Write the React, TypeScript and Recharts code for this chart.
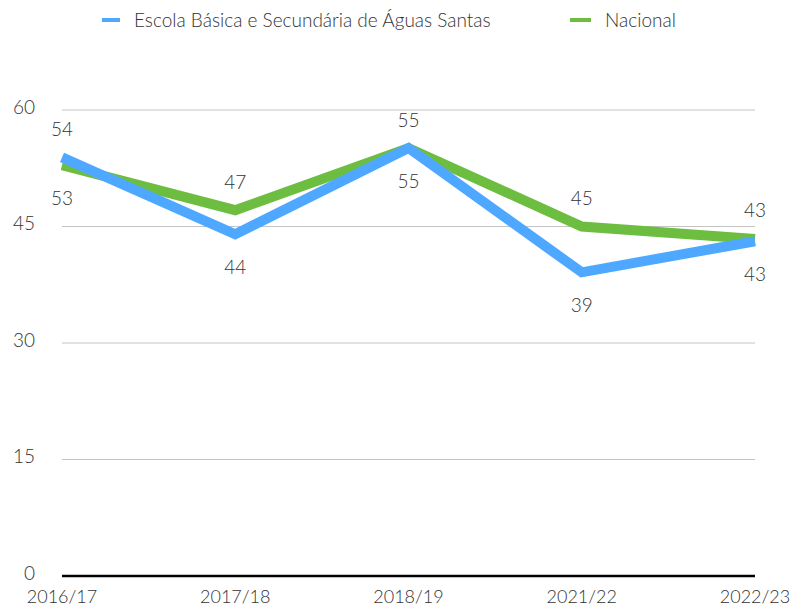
import { LineChart, Line, XAxis, YAxis, CartesianGrid, Legend, LabelList } from 'recharts';

const years = ['2016/17', '2017/18', '2018/19', '2021/22', '2022/23'];
const escola = [53.9, 44.0, 55.1, 39.1, 43.1];
const nacional = [52.9, 47.1, 55.1, 45.0, 43.4];
const yTicks = [0, 15, 30, 45, 60];

const BLUE = '#4FA8FF';
const GREEN = '#6DBE40';
const FONT = 'Lato, "Open Sans", sans-serif';
const TEXT = '#333333';

const data = years.map((year, i) => ({ year, escola: escola[i], nacional: nacional[i] }));

const makeLabel = (key: 'escola' | 'nacional') => (props: any) => {
  const { x, y, index, value } = props;
  const other = key === 'escola' ? nacional[index] : escola[index];
  const above = key === 'escola' ? value > other : value >= other;
  return (
    <text
      x={x}
      y={above ? y - 29 : y + 32}
      textAnchor="middle"
      dominantBaseline="central"
      fontSize={19}
      fontWeight={300}
      fontFamily={FONT}
      fill={TEXT}
    >
      {Math.round(value)}
    </text>
  );
};

const LegendBox = () => (
  <div style={{ height: 40, position: 'relative', fontFamily: FONT, fontSize: 19, fontWeight: 300, color: TEXT }}>
    <div style={{ position: 'absolute', left: 102, top: 8, display: 'flex', alignItems: 'center' }}>
      <span style={{ width: 18, height: 4, background: BLUE, marginRight: 14 }} />
      <span>Escola Básica e Secundária de Águas Santas</span>
    </div>
    <div style={{ position: 'absolute', left: 570, top: 8, display: 'flex', alignItems: 'center' }}>
      <span style={{ width: 21, height: 4, background: GREEN, marginRight: 14 }} />
      <span>Nacional</span>
    </div>
  </div>
);

export default function App() {
  return (
    <div style={{ position: 'absolute', top: 0, left: 0, width: 794, height: 612, overflow: 'hidden', background: '#fff' }}>
      <style>{'html,body{margin:0;overflow:hidden}'}</style>
      <LineChart width={794} height={612} data={data} margin={{ top: 70, right: 39, bottom: 6, left: 12 }}>
        <Legend verticalAlign="top" align="left" content={<LegendBox />} wrapperStyle={{ top: 0, left: 0, width: 794 }} />
        <CartesianGrid vertical={false} stroke="#c4c4c4" strokeWidth={1} />
        <XAxis
          dataKey="year"
          padding={{ left: 0, right: 0 }}
          axisLine={{ stroke: '#000', strokeWidth: 2.5 }}
          tickLine={false}
          tickSize={0}
          tickMargin={14}
          height={30}
          interval={0}
          tick={{ fontSize: 18, fontWeight: 300, fontFamily: FONT, fill: TEXT }}
        />
        <YAxis
          domain={[0, 60]}
          ticks={yTicks}
          width={50}
          axisLine={false}
          tickLine={false}
          tickSize={0}
          tickMargin={27}
          tick={{ fontSize: 19, fontWeight: 300, fontFamily: FONT, fill: TEXT, dy: -3 }}
        />
        <Line
          dataKey="nacional"
          stroke={GREEN}
          strokeWidth={10}
          dot={false}
          strokeLinejoin="miter"
          isAnimationActive={false}
        >
          <LabelList dataKey="nacional" content={makeLabel('nacional')} />
        </Line>
        <Line
          dataKey="escola"
          stroke={BLUE}
          strokeWidth={10}
          dot={false}
          strokeLinejoin="miter"
          isAnimationActive={false}
        >
          <LabelList dataKey="escola" content={makeLabel('escola')} />
        </Line>
      </LineChart>
    </div>
  );
}
